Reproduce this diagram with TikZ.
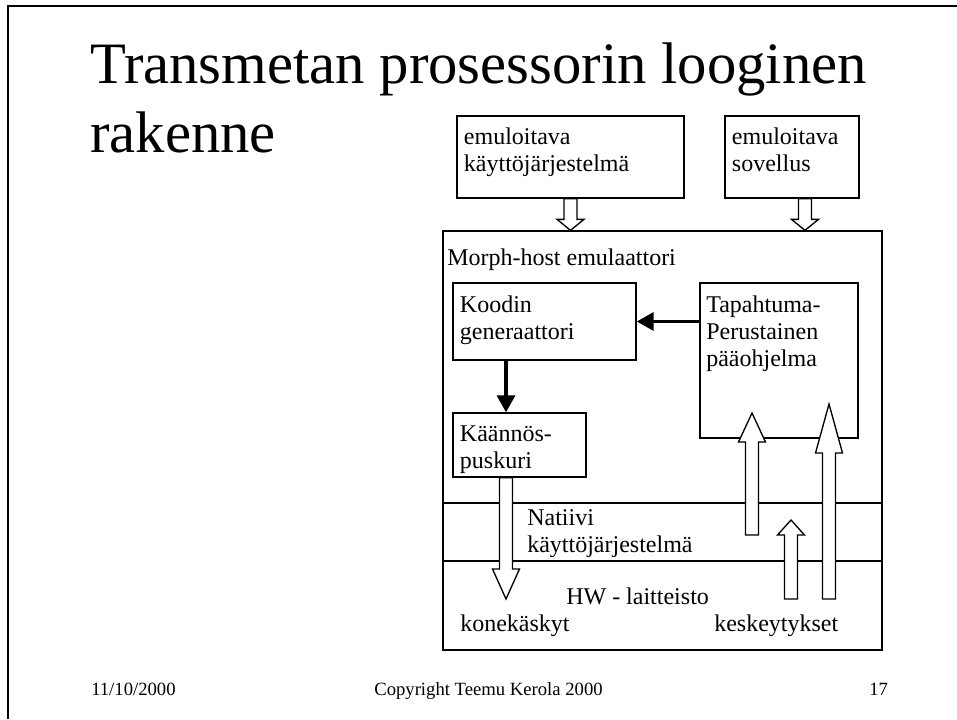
\documentclass[tikz,border=0pt]{standalone}
\usepackage{fontspec}
\setmainfont{Liberation Serif}
\usetikzlibrary{arrows.meta, positioning, fit, calc}

\begin{document}
\begin{tikzpicture}[
    x=0.75pt, y=-0.75pt,
    box/.style={rectangle, draw, line width=1pt, inner sep=0pt},
    boxtext/.style={inner sep=0pt, align=left, font=\fontsize{18}{20.25}\selectfont, execute at begin node=\strut},
    txt/.style={inner sep=0pt, anchor=base west, font=\fontsize{18}{20.25}\selectfont},
    heading/.style={inner sep=0pt, anchor=base west, font=\fontsize{44}{52}\selectfont},
    foot/.style={inner sep=0pt, anchor=base west, font=\fontsize{14}{16}\selectfont},
    arrow/.style={-{Triangle[length=12.75pt, width=13.5pt]}, line width=2.5pt},
    sep/.style={line width=1pt},
    hollow/.style={draw, fill=white, line width=1pt, to path={
        ($(\tikztotarget)!#1!(\tikztostart)$) coordinate (hollow_base)
        ($(\tikztostart)!4.875pt!90:(\tikztotarget)$)
        -- ($(hollow_base)!4.875pt!-90:(\tikztostart)$)
        -- ($(hollow_base)!10.125pt!-90:(\tikztostart)$)
        -- (\tikztotarget)
        -- ($(hollow_base)!10.125pt!90:(\tikztostart)$)
        -- ($(hollow_base)!4.875pt!90:(\tikztostart)$)
        -- ($(\tikztostart)!4.875pt!-90:(\tikztotarget)$)
        -- cycle}},
    hollow/.default=8.25pt
]
    \useasboundingbox (0,0) rectangle (957,719);

    % Slide frame
    \draw[line width=1.5pt] (8,719) |- (957,6);

    % Title
    \node[heading] (title) at (90,83) {Transmetan prosessorin looginen};
    \node[heading] (title_b) at (90,152) {rakenne};

    % Emulated software
    \node[box, fit={(457,116) (684,198)}] (emu_os) {};
    \node[boxtext, below right=9.5pt and 5.5pt of emu_os.north west] (emu_os_txt) {emuloitava\\käyttöjärjestelmä};
    \node[box, fit={(725,116) (859,198)}] (emu_app) {};
    \node[boxtext, below right=9.5pt and 5.5pt of emu_app.north west] (emu_app_txt) {emuloitava\\sovellus};

    % Morph-host emulator
    \node[box, fit={(443,231) (882,650)}] (morph) {};
    \node[txt] (morph_txt) at (447,265) {Morph-host emulaattori};

    \node[box, fit={(453,283) (636,360)}] (koodi) {};
    \node[boxtext, below right=9.75pt and 5.5pt of koodi.north west] (koodi_txt) {Koodin\\generaattori};

    \node[box, fit={(700,283) (858,438)}] (tapahtuma) {};
    \node[boxtext, below right=9.75pt and 5pt of tapahtuma.north west] (tapahtuma_txt) {Tapahtuma-\\Perustainen\\pääohjelma};

    \node[box, fit={(453,413) (586,477)}] (kaannos) {};
    \node[boxtext, below right=9.75pt and 5.5pt of kaannos.north west] (kaannos_txt) {Käännös-\\puskuri};

    % Layers
    \coordinate (layer_os) at (443,503);
    \coordinate (layer_hw) at (443,561);
    \draw[sep] (layer_os) -- (layer_os -| morph.east);
    \draw[sep] (layer_hw) -- (layer_hw -| morph.east);
    \node[boxtext, anchor=north west] (natiivi) at (527,509) {Natiivi\\käyttöjärjestelmä};
    \node[txt] (hw) at (566,604) {HW - laitteisto};
    \node[txt] (konek) at (460,631) {konekäskyt};
    \node[txt] (keskeyt) at (714,631) {keskeytykset};

    % Control flow
    \draw[arrow] (tapahtuma.west |- koodi.east) -- (koodi.east);
    \coordinate (buf_out) at ($(kaannos.south)+(-13.5,0)$);
    \draw[arrow] (koodi.south -| buf_out) -- (kaannos.north -| buf_out);

    % Block arrows
    \coordinate (app_out) at ($(emu_app.south)+(13,0)$);
    \draw[hollow] (emu_os.south) to (emu_os.south |- morph.north);
    \draw[hollow] (app_out) to (app_out |- morph.north);
    \coordinate (cmd_tip) at (506,599);
    \draw[hollow=22.5pt] (buf_out) to (cmd_tip);
    \coordinate (irq_a) at (752,535);
    \coordinate (irq_a_tip) at (752,413);
    \draw[hollow=21.75pt] (irq_a) to (irq_a_tip);
    \coordinate (irq_b) at (791,599);
    \coordinate (irq_b_tip) at (791,520);
    \draw[hollow=11.25pt] (irq_b) to (irq_b_tip);
    \coordinate (irq_c) at (829,599);
    \coordinate (irq_c_tip) at (829,404);
    \draw[hollow=36.75pt] (irq_c) to (irq_c_tip);

    % Footer
    \node[foot] (date) at (91,695) {11/10/2000};
    \node[foot, anchor=base] (copy) at (488.5,695) {Copyright Teemu Kerola 2000};
    \node[foot] (page) at (869,695) {17};

\end{tikzpicture}
\end{document}
